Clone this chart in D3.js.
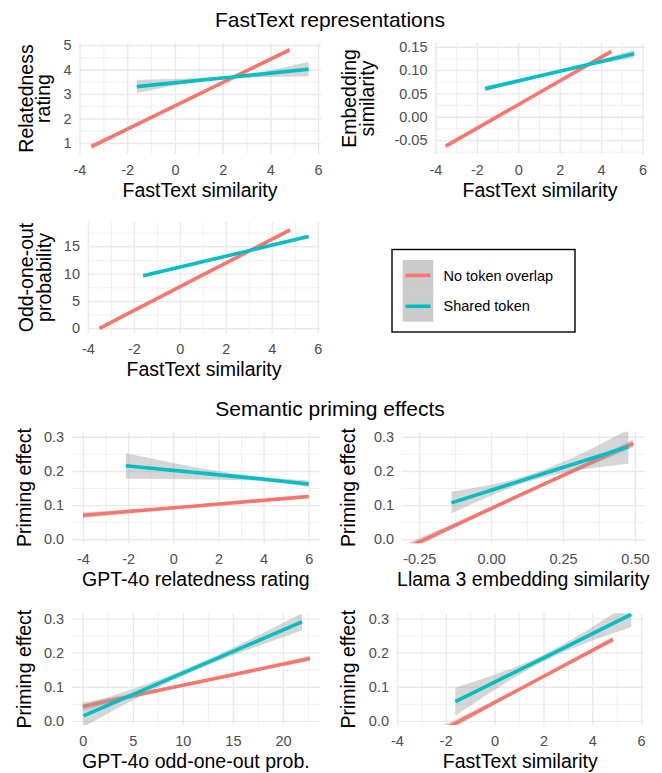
<!DOCTYPE html>
<html>
<head>
<meta charset="utf-8">
<script src="https://cdn.jsdelivr.net/npm/d3@7"></script>
<style>
  body { margin: 0; background: #fff; }
  svg text { font-family: "Liberation Sans", Arial, Helvetica, sans-serif; }
</style>
</head>
<body>
<div id="chart"></div>
<script>
// smoothed fits, each point is [x, fit, lower, upper]
// FastText representations
const relatedNoOverlap = [[-3.5, 0.85, 0.74, 0.96], [0.6, 2.80, 2.76, 2.84], [4.8, 4.80, 4.70, 4.90]];
const relatedShared    = [[-1.6, 3.30, 3.03, 3.57], [2.4, 3.69, 3.64, 3.74], [5.6, 4.01, 3.72, 4.30]];
const embedNoOverlap   = [[-3.5, -0.063, -0.067, -0.059], [0.5, 0.0385, 0.0365, 0.0405], [4.5, 0.140, 0.136, 0.144]];
const embedShared      = [[-1.6, 0.060, 0.054, 0.066], [2.0, 0.0975, 0.095, 0.100], [5.6, 0.135, 0.127, 0.143]];
const oddNoOverlap     = [[-3.5, 0.0, -0.3, 0.3], [0.6, 8.9, 8.75, 9.05], [4.8, 18.0, 17.7, 18.3]];
const oddShared        = [[-1.6, 9.6, 9.3, 9.9], [2.0, 13.2, 13.05, 13.35], [5.6, 16.8, 16.5, 17.1]];
// Semantic priming effects
const ratingNoOverlap  = [[-4, 0.070, 0.062, 0.078], [1, 0.0975, 0.094, 0.101], [6, 0.125, 0.119, 0.131]];
const ratingShared     = [[-2.1, 0.215, 0.177, 0.252], [3.5, 0.179, 0.172, 0.186], [6, 0.162, 0.152, 0.172]];
const llamaNoOverlap   = [[-0.30, -0.0276, -0.040, -0.015], [0.10, 0.129, 0.125, 0.133], [0.494, 0.281, 0.269, 0.293]];
const llamaShared      = [[-0.138, 0.1065, 0.075, 0.139], [0.12, 0.1756, 0.166, 0.185], [0.477, 0.271, 0.221, 0.321]];
const oddProbNoOverlap = [[0, 0.042, 0.030, 0.054], [8, 0.092, 0.088, 0.096], [22.7, 0.183, 0.175, 0.191]];
const oddProbShared    = [[0.07, 0.0146, -0.018, 0.047], [8, 0.1147, 0.105, 0.125], [21.9, 0.290, 0.265, 0.315]];
const fastNoOverlap    = [[-3.5, -0.079, -0.099, -0.059], [1, 0.092, 0.088, 0.096], [4.85, 0.2386, 0.231, 0.246]];
const fastShared       = [[-1.61, 0.0565, 0.015, 0.097], [2.0, 0.184, 0.174, 0.194], [5.6, 0.312, 0.275, 0.349]];

const groups = ["No token overlap", "Shared token"];
const groupColors = ["#F8766D", "#00BFC4"];

const fastTextTicks = [-4, -2, 0, 2, 4, 6];
const relatedTicks = [1, 2, 3, 4, 5];
const embedTicks = [-0.05, 0, 0.05, 0.10, 0.15];
const oddTicks = [0, 5, 10, 15];
const primingTicks = [0, 0.1, 0.2, 0.3];
const llamaTicks = [-0.25, 0, 0.25, 0.5];
const oddProbTicks = [0, 5, 10, 15, 20];

const W = 662, H = 773;
const FONT_TICK = 14.5, FONT_AXIS = 19.5, FONT_TITLE = 21, LINE_H = 17.5;

const int = d => String(d);
const f1 = d => d.toFixed(1);
const f2 = d => d.toFixed(2);

// box = [left, top, right, bottom]; titleX = baseline of the last y-title line
const panels = [
  { box: [79, 43, 321, 154], x: [-4.02, 6.12], y: [0.55, 5.08], xTicks: fastTextTicks, yTicks: relatedTicks,
    xFmt: int, yFmt: int, xTitle: "FastText similarity", yTitle: ["Relatedness", "rating"], titleX: 50,
    fits: [relatedNoOverlap, relatedShared] },
  { box: [435, 43, 645, 154], x: [-4.02, 6.12], y: [-0.080, 0.158], xTicks: fastTextTicks, yTicks: embedTicks,
    xFmt: int, yFmt: f2, xTitle: "FastText similarity", yTitle: ["Embedding", "similarity"], titleX: 373.5,
    fits: [embedNoOverlap, embedShared] },
  { box: [87.5, 222, 320.5, 333], x: [-4.02, 6.12], y: [-0.86, 19.45], xTicks: fastTextTicks, yTicks: oddTicks,
    xFmt: int, yFmt: int, xTitle: "FastText similarity", yTitle: ["Odd-one-out", "probability"], titleX: 50.5,
    fits: [oddNoOverlap, oddShared] },
  { box: [71.7, 431.7, 320, 543.3], x: [-4.5, 6.5], y: [-0.012, 0.315], xTicks: fastTextTicks, yTicks: primingTicks,
    xFmt: int, yFmt: f1, xTitle: "GPT-4o relatedness rating", yTitle: ["Priming effect"], titleX: 31,
    fits: [ratingNoOverlap, ratingShared] },
  { box: [401.7, 431.7, 645, 543.3], x: [-0.311, 0.535], y: [-0.012, 0.315], xTicks: llamaTicks, yTicks: primingTicks,
    xFmt: f2, yFmt: f1, xTitle: "Llama 3 embedding similarity", yTitle: ["Priming effect"], titleX: 354.5,
    fits: [llamaNoOverlap, llamaShared] },
  { box: [71.7, 613.3, 320, 725], x: [-1.1, 23.7], y: [-0.012, 0.315], xTicks: oddProbTicks, yTicks: primingTicks,
    xFmt: int, yFmt: f1, xTitle: "GPT-4o odd-one-out prob.", yTitle: ["Priming effect"], titleX: 31,
    fits: [oddProbNoOverlap, oddProbShared] },
  { box: [396.5, 613.3, 644, 725], x: [-4.02, 6.12], y: [-0.012, 0.315], xTicks: fastTextTicks, yTicks: primingTicks,
    xFmt: int, yFmt: f1, xTitle: "FastText similarity", yTitle: ["Priming effect"], titleX: 354.5,
    fits: [fastNoOverlap, fastShared] }
];

// minor breaks half way between majors, like ggplot
function minorOf(ticks, domain) {
  const step = ticks[1] - ticks[0];
  const out = [];
  for (let i = -1; i < ticks.length; i++) {
    const v = ticks[0] + step * (i + 0.5);
    if (v > Math.min(...domain) && v < Math.max(...domain)) out.push(v);
  }
  return out;
}

const svg = d3.select("#chart").append("svg")
  .attr("width", W).attr("height", H)
  .attr("viewBox", `0 0 ${W} ${H}`);

svg.append("rect").attr("width", W).attr("height", H).attr("fill", "#fff");

svg.append("text").attr("x", 330).attr("y", 26.5)
  .attr("text-anchor", "middle").attr("font-size", FONT_TITLE).attr("fill", "#000")
  .text("FastText representations");
svg.append("text").attr("x", 330).attr("y", 416)
  .attr("text-anchor", "middle").attr("font-size", FONT_TITLE).attr("fill", "#000")
  .text("Semantic priming effects");

const defs = svg.append("defs");

panels.forEach((p, pi) => {
  const [l, t, r, b] = p.box;
  const x = d3.scaleLinear().domain(p.x).range([l, r]);
  const y = d3.scaleLinear().domain(p.y).range([b, t]);
  const g = svg.append("g").attr("class", "panel");

  // grid
  const grid = (axis, vals, size, width, transform) => {
    const ga = g.append("g").attr("transform", transform)
      .call(axis.tickValues(vals).tickSize(size).tickFormat(""));
    ga.select(".domain").remove();
    ga.selectAll("line").attr("stroke", "#e9e9e9").attr("stroke-width", width);
  };
  grid(d3.axisBottom(x), minorOf(p.xTicks, p.x), -(b - t), 0.7, `translate(0,${b})`);
  grid(d3.axisLeft(y), minorOf(p.yTicks, p.y), -(r - l), 0.7, `translate(${l},0)`);
  grid(d3.axisBottom(x), p.xTicks, -(b - t), 1.4, `translate(0,${b})`);
  grid(d3.axisLeft(y), p.yTicks, -(r - l), 1.4, `translate(${l},0)`);

  // tick labels
  const xa = g.append("g").attr("transform", `translate(0,${b})`)
    .call(d3.axisBottom(x).tickValues(p.xTicks).tickSize(0).tickPadding(10.6).tickFormat(p.xFmt));
  const ya = g.append("g").attr("transform", `translate(${l},0)`)
    .call(d3.axisLeft(y).tickValues(p.yTicks).tickSize(0).tickPadding(7.5).tickFormat(p.yFmt));
  [xa, ya].forEach(a => {
    a.select(".domain").remove();
    a.attr("font-family", null).attr("font-size", FONT_TICK);
    a.selectAll("text").attr("fill", "#4d4d4d");
  });

  // axis titles
  g.append("text").attr("x", (l + r) / 2).attr("y", b + 43)
    .attr("text-anchor", "middle").attr("font-size", FONT_AXIS).attr("fill", "#000")
    .text(p.xTitle);
  const n = p.yTitle.length;
  p.yTitle.forEach((line, i) => {
    const bx = p.titleX - (n - 1 - i) * LINE_H;
    g.append("text")
      .attr("transform", `translate(${bx},${(t + b) / 2}) rotate(-90)`)
      .attr("text-anchor", "middle").attr("font-size", FONT_AXIS).attr("fill", "#000")
      .text(line);
  });

  // fits, clipped to the panel
  defs.append("clipPath").attr("id", "clip" + pi)
    .append("rect").attr("x", l).attr("y", t).attr("width", r - l).attr("height", b - t);
  const marks = g.append("g").attr("clip-path", `url(#clip${pi})`);
  const band = d3.area().x(d => x(d[0])).y0(d => y(d[2])).y1(d => y(d[3])).curve(d3.curveMonotoneX);
  const fitLine = d3.line().x(d => x(d[0])).y(d => y(d[1]));
  p.fits.forEach((fit, gi) => {
    marks.append("path").attr("d", band(fit)).attr("fill", "#999999").attr("fill-opacity", 0.4);
    marks.append("path").attr("d", fitLine(fit)).attr("fill", "none")
      .attr("stroke", groupColors[gi]).attr("stroke-width", 3.6);
  });
});

// legend
const legend = svg.append("g").attr("class", "legend");
legend.append("rect").attr("x", 392).attr("y", 249.5).attr("width", 183).attr("height", 82.5)
  .attr("fill", "#fff").attr("stroke", "#000").attr("stroke-width", 1.4);
const keyY = d3.scaleBand().domain(groups).range([260, 321.7]);
groups.forEach((name, i) => {
  const cy = keyY(name) + keyY.bandwidth() / 2;
  legend.append("rect").attr("x", 402.7).attr("y", keyY(name))
    .attr("width", 30.6).attr("height", keyY.bandwidth()).attr("fill", "#999999").attr("fill-opacity", 0.5);
  legend.append("line").attr("x1", 405.5).attr("x2", 430.5).attr("y1", cy).attr("y2", cy)
    .attr("stroke", groupColors[i]).attr("stroke-width", 3.6);
  legend.append("text").attr("x", 443.5).attr("y", cy).attr("dy", "0.35em")
    .attr("font-size", FONT_TICK).attr("fill", "#000").text(name);
});
</script>
</body>
</html>
